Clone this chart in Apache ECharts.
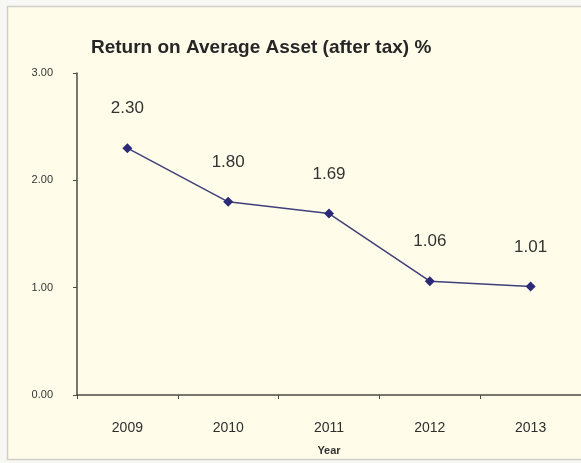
<!DOCTYPE html>
<html>
<head>
<meta charset="utf-8">
<script src="https://cdn.jsdelivr.net/npm/echarts@6/dist/echarts.min.js"></script>
<style>
  html, body { margin: 0; padding: 0; background: #f7f7f4; }
  #chart { width: 581px; height: 463px; }
</style>
</head>
<body>
<div id="chart"></div>
<script>
// Return on average assets, after tax (%)
const years = ['2009', '2010', '2011', '2012', '2013'];
const roaValues = [2.30, 1.80, 1.69, 1.06, 1.01];
const yTicks = [0, 1, 2, 3];

const chart = echarts.init(document.getElementById('chart'));

chart.setOption({
  animation: false,
  graphic: [{
    type: 'rect',
    z: -10,
    shape: { x: 7.5, y: 6.5, width: 620, height: 453 },
    style: { fill: '#fffdea', stroke: '#cfcfc6', lineWidth: 1.5 }
  }],
  title: {
    text: 'Return on Average Asset (after tax) %',
    left: 86,
    top: 33,
    textStyle: {
      fontFamily: 'Liberation Sans, Arial, sans-serif',
      fontSize: 19,
      fontWeight: 'bold',
      color: '#262626'
    }
  },
  grid: { left: 77, right: -6, top: 73, bottom: 68 },
  xAxis: {
    type: 'category',
    data: years,
    boundaryGap: true,
    name: 'Year',
    nameLocation: 'middle',
    nameGap: 50,
    nameTextStyle: {
      fontFamily: 'Liberation Sans, Arial, sans-serif',
      fontSize: 11,
      fontWeight: 'bold',
      color: '#333'
    },
    axisLine: { lineStyle: { color: '#4a4a40', width: 1.5 } },
    axisTick: { show: true, length: 4, lineStyle: { color: '#4a4a40' } },
    axisLabel: {
      margin: 26,
      fontFamily: 'Liberation Sans, Arial, sans-serif',
      fontSize: 14,
      color: '#2e2e2e'
    },
    splitLine: { show: false }
  },
  yAxis: {
    type: 'value',
    min: yTicks[0],
    max: yTicks[yTicks.length - 1],
    interval: 1,
    axisLine: { show: true, lineStyle: { color: '#4a4a40', width: 1.5 } },
    axisTick: { show: true, length: 4, lineStyle: { color: '#4a4a40' } },
    axisLabel: {
      margin: 24,
      fontFamily: 'Liberation Sans, Arial, sans-serif',
      fontSize: 11,
      color: '#333',
      formatter: v => v.toFixed(2)
    },
    splitLine: { show: false }
  },
  series: [{
    type: 'line',
    data: roaValues,
    symbol: 'diamond',
    symbolSize: 10,
    lineStyle: { color: '#3f3f7a', width: 1.5 },
    itemStyle: { color: '#2a2a78' },
    label: {
      show: true,
      position: 'top',
      distance: 26,
      fontFamily: 'Liberation Sans, Arial, sans-serif',
      fontSize: 17,
      color: '#333',
      formatter: p => p.value.toFixed(2)
    }
  }]
});
</script>
</body>
</html>
